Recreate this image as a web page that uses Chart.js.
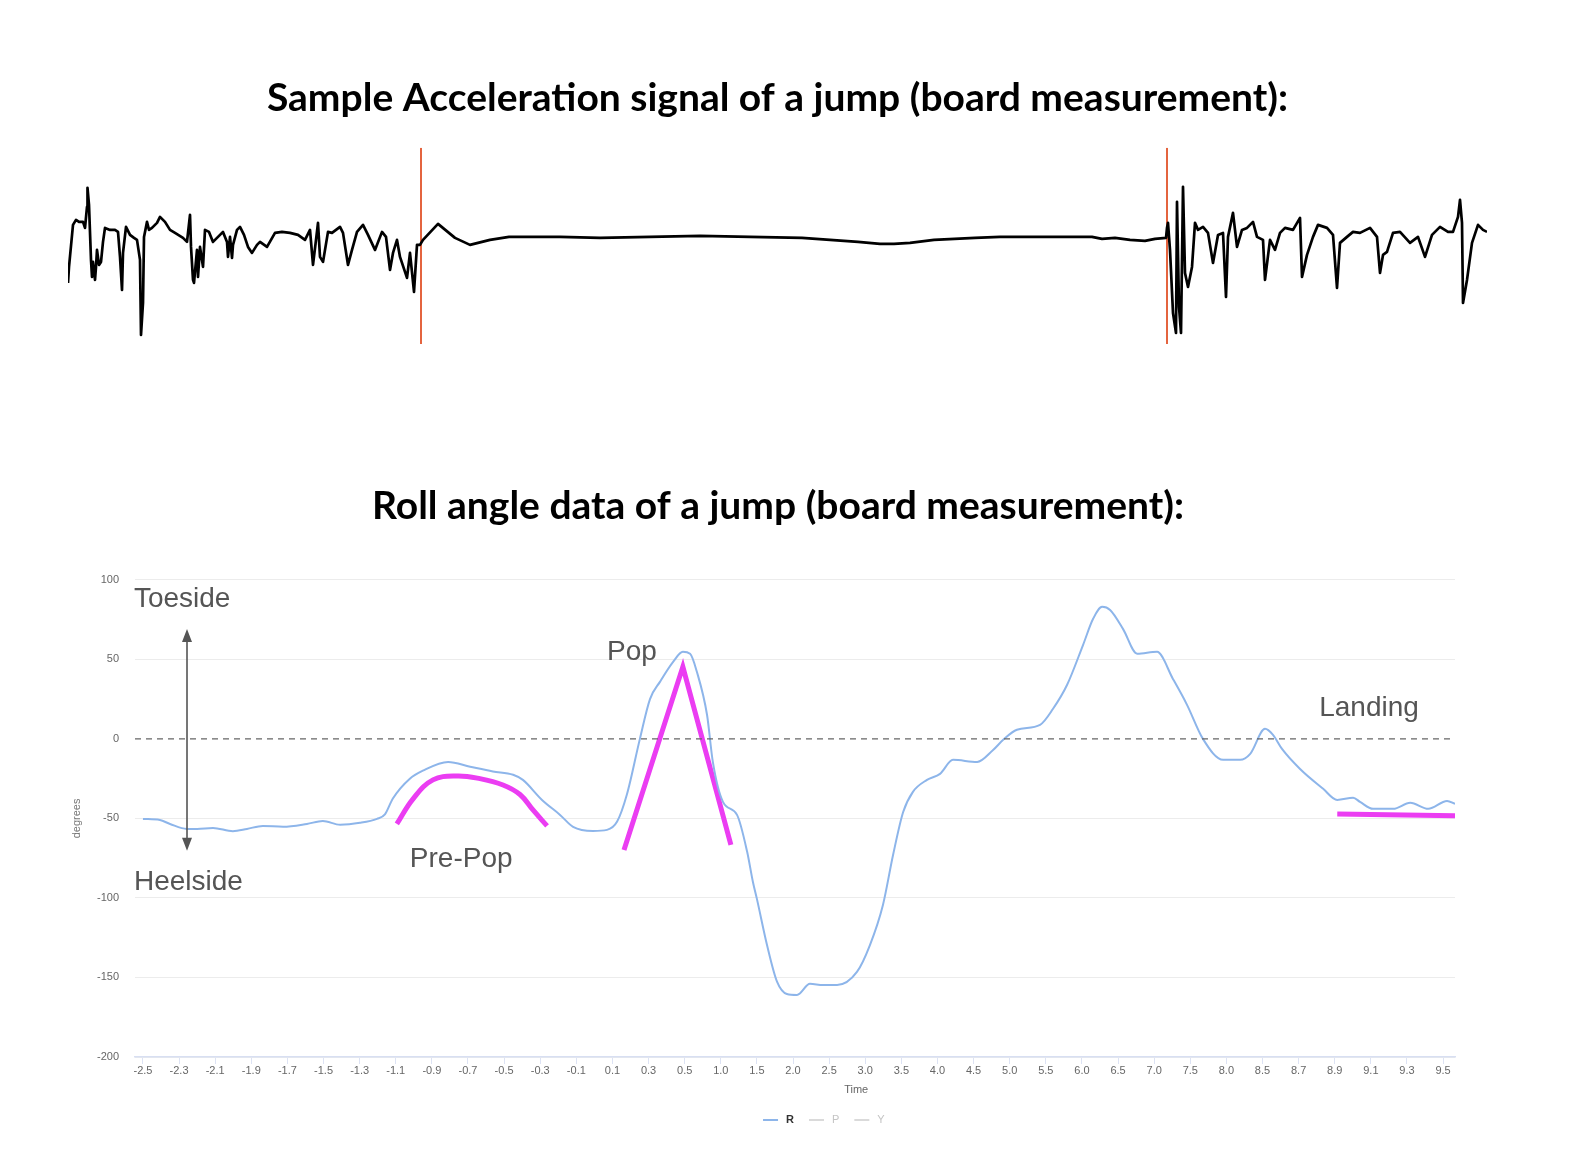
<!DOCTYPE html>
<html>
<head>
<meta charset="utf-8">
<script src="https://cdn.jsdelivr.net/npm/chart.js@4.4.1/dist/chart.umd.min.js"></script>
<style>
  html, body { margin: 0; padding: 0; background: #fff; overflow: hidden; }
  .box { position: absolute; left: 0; width: 1570px; }
  #accBox { top: 60px; height: 300px; }
  #rollBox { top: 468px; height: 676px; }
</style>
</head>
<body>
<div class="box" id="accBox"><canvas id="accChart"></canvas></div>
<div class="box" id="rollBox"><canvas id="rollChart"></canvas></div>
<script>
// ---- acceleration trace (sample index, arbitrary units) ----
const accSample = [0,1,5,8,11,15,17,19,19.5,21,23,24,25,27,28,29,31,33,35,37,42,47,50,52,54,55,58,62,66,69,72,73,75,76,79,81,84,89,92,97,102,107,115,119,122,123,125,126,129,130,132,135,137,141,145,150,155,159,160,162,164,165,169,172,176,180,184,189,192,199,207,214,222,230,237,242,245,248,250,252,255,260,264,272,275,280,284,289,295,300,307,314,318,322,325,329,332,339,342,346,349,352,
    355,370,387,402,422,441,492,532,582,632,682,734,762,790,812,826,842,866,907,932,982,1024,1034,1047,1062,1077,1087,1098,
    1099,1100,1102,1105,1108,1109,1111,1113,1115,1117,1120,1124,1127,1130,1135,1140,1145,1150,1155,1158,1160,1165,1169,1174,1179,1185,1189,1195,1197,1202,1207,1212,1217,1225,1232,1234,1239,1245,1250,1259,1265,1269,1272,1279,1285,1292,1302,1309,1312,1315,1319,1325,1332,1342,1350,1357,1364,1372,1380,1385,1390,1392,1394,1395,1399,1404,1410,1415,1419];
const accValue = [-43,-27,15,20,18,18,12,33,52,35,-20,-37,-22,-40,-27,-10,-25,-22,-2,12,10,10,8,-17,-50,-13,13,5,2,0,-20,-95,-63,3,18,10,12,17,23,18,10,7,2,-2,25,-7,-40,-43,-10,-37,-7,-27,10,8,-2,3,8,-2,-17,3,-18,-5,10,13,5,-7,-13,-5,-2,-7,7,8,7,5,0,10,-25,0,17,-17,-22,8,7,13,7,-25,-10,8,15,5,-10,8,3,-30,-13,0,-17,-38,-13,-52,-5,-5,
    0,16,2,-5,0,3,3,2,3,4,3,2,0,-2,-4,-4,-3,0,2,3,3,3,1,2,0,-1,1,2,
    12,17,-10,-73,-93,38,-67,-93,53,-33,-47,-27,17,10,13,7,-23,5,7,-57,3,27,-7,10,12,18,3,0,-40,0,-10,7,12,10,22,-37,-15,3,15,12,5,-48,-3,3,8,7,12,3,-33,-15,-12,7,8,-3,3,-17,5,13,8,8,23,40,17,-63,-40,-3,15,10,8];
const jumpMarks = [353, 1099];      // take-off / landing markers
const accRange = [-104, 92];

// ---- roll angle (x = tick slot position, y = degrees) ----
const timeLabels = ['-2.5','-2.3','-2.1','-1.9','-1.7','-1.5','-1.3','-1.1','-0.9','-0.7','-0.5','-0.3','-0.1','0.1','0.3','0.5','1.0','1.5','2.0','2.5','3.0','3.5','4.0','4.5','5.0','5.5','6.0','6.5','7.0','7.5','8.0','8.5','8.7','8.9','9.1','9.3','9.5'];
const rollPos = [0,0.47,0.75,1.22,1.5,1.94,2.49,2.88,3.32,3.88,4.54,4.98,5.46,6.01,6.48,6.7,6.92,7.39,7.75,8.45,9.06,9.69,10.25,10.52,11.05,11.55,11.91,12.46,12.85,13.13,13.4,13.76,14.04,14.32,14.68,14.95,15.15,15.34,15.62,15.78,16.06,16.45,16.73,16.89,17.0,17.28,17.56,17.83,18.11,18.47,18.83,19.22,19.77,20.13,20.49,20.77,21.05,21.32,21.71,22.07,22.43,23.1,23.54,23.82,24.2,24.84,25.2,25.59,26.03,26.31,26.56,26.78,27.14,27.53,28.08,28.52,28.91,29.35,29.91,30.38,30.66,31.07,31.29,31.54,32.04,32.68,33.07,33.51,33.7,34.06,34.62,35.09,35.59,36.11,36.33];
const rollDeg = [-50.3,-51,-53.5,-56.6,-56.6,-56,-58,-56.6,-54.7,-55.3,-53.5,-51.6,-54,-52.8,-50.3,-47.5,-37.5,-25,-20,-14.5,-17.5,-20.5,-22.6,-25.8,-38.4,-47.8,-55.3,-57.9,-57.2,-52,-35,0,25,36,48.4,54.7,53.5,42,15,-14.5,-39.6,-47.8,-71,-90,-100.6,-129.6,-152.8,-160.4,-161,-154,-154.7,-154.7,-146.5,-129.6,-104.4,-73,-46,-33.3,-25.8,-22,-13.2,-14.5,-7,-0.6,5.7,8.8,18.9,34,59,75.5,83,81,69,53.5,54.7,37.7,21.4,0,-13.2,-13.2,-9.4,6.3,2.5,-6.3,-18.9,-31.4,-38.4,-37,-39.6,-44,-44,-40.2,-44,-39,-40.9];

// hand-drawn phase sketches
const prePopPos = [7.03,7.48,8.03,8.70,9.33,9.97,10.44,10.80,11.19];
const prePopDeg = [-53.5,-37.7,-25.8,-23.3,-25,-29,-35,-44.7,-54.7];
const popPos = [13.32,14.95,16.28];
const popDeg = [-69.8,45.3,-66.7];
const landPos = [33.07,36.33];
const landDeg = [-47.2,-48.4];

// annotations
const noteText = ['Toeside','Heelside','Pre-Pop','Pop','Landing'];
const notePos = [-0.25,-0.25,7.39,12.85,32.57];
const noteDeg = [88,-90,-75.5,54.7,19.5];
const arrowPos = 1.22;
const arrowDeg = [69,-70.4];

const seriesNames = ['R','P','Y'];
const seriesLine = ['#8db5ea','#dadada','#dadada'];
const seriesText = ['#333333','#c4c4c4','#c4c4c4'];

const xyPairs = (xs, ys) => xs.map((x, i) => ({ x: x, y: ys[i] }));
const xMin = -0.22, xMax = 36.33;
const tickFont = { family: "'Liberation Sans', Arial, sans-serif", size: 11 };
const titleFont = { family: "Lato, 'Open Sans', sans-serif", size: 39, weight: 'bold' };

/* ---------------- top chart ---------------- */
new Chart(document.getElementById('accChart'), {
    type: 'line',
    data: {
        datasets: [
            {
                data: xyPairs(accSample, accValue),
                borderColor: '#000',
                borderWidth: 2.7,
                borderJoinStyle: 'round',
                pointRadius: 0,
                tension: 0
            },
            ...jumpMarks.map(m => ({
                data: [{ x: m, y: accRange[0] }, { x: m, y: accRange[1] }],
                borderColor: '#e4643f',
                borderWidth: 2,
                pointRadius: 0
            }))
        ]
    },
    options: {
        responsive: true,
        maintainAspectRatio: false,
        animation: false,
        layout: { padding: { left: 68, right: 83, top: 0, bottom: 16 } },
        scales: {
            x: { type: 'linear', display: false, min: 0, max: 1419 },
            y: { display: false, min: accRange[0], max: accRange[1] }
        },
        plugins: {
            legend: { display: false },
            tooltip: { enabled: false },
            title: {
                display: true,
                text: 'Sample Acceleration signal of a jump (board measurement):',
                color: '#000',
                font: titleFont,
                padding: { top: 15, bottom: 26 }
            }
        }
    }
});

/* ---------------- bottom chart ---------------- */
// labels, arrow, axis name and legend drawn on top
const rollExtras = {
    id: 'rollExtras',
    afterDatasetsDraw(chart) {
        const { ctx, scales: { x, y } } = chart;
        ctx.save();
        ctx.fillStyle = '#555';
        ctx.font = "28px 'Liberation Sans', Arial, sans-serif";
        ctx.textBaseline = 'middle';
        noteText.forEach((t, i) => {
            ctx.fillText(t, x.getPixelForValue(notePos[i]), y.getPixelForValue(noteDeg[i]));
        });

        // double headed arrow
        const ax = x.getPixelForValue(arrowPos);
        const top = y.getPixelForValue(arrowDeg[0]);
        const bot = y.getPixelForValue(arrowDeg[1]);
        ctx.strokeStyle = '#555';
        ctx.lineWidth = 1.6;
        ctx.beginPath();
        ctx.moveTo(ax, top + 10);
        ctx.lineTo(ax, bot - 10);
        ctx.stroke();
        ctx.beginPath();
        ctx.moveTo(ax, top); ctx.lineTo(ax - 5, top + 13); ctx.lineTo(ax + 5, top + 13); ctx.closePath();
        ctx.moveTo(ax, bot); ctx.lineTo(ax - 5, bot - 13); ctx.lineTo(ax + 5, bot - 13); ctx.closePath();
        ctx.fill();
        ctx.restore();
    },
    afterDraw(chart) {
        const { ctx, chartArea, scales: { x } } = chart;
        ctx.save();
        ctx.textBaseline = 'middle';
        ctx.font = "11px 'Liberation Sans', Arial, sans-serif";
        ctx.fillStyle = '#666';
        ctx.textAlign = 'center';
        ctx.fillText('Time', x.getPixelForValue(19.75), chartArea.bottom + 33);

        // legend
        ctx.textAlign = 'left';
        const ly = chartArea.bottom + 63;
        let lx = x.getPixelForValue(17.17);
        seriesNames.forEach((n, i) => {
            ctx.strokeStyle = seriesLine[i];
            ctx.lineWidth = 2;
            ctx.beginPath();
            ctx.moveTo(lx, ly);
            ctx.lineTo(lx + 15, ly);
            ctx.stroke();
            ctx.fillStyle = seriesText[i];
            ctx.font = (i === 0 ? 'bold ' : '') + "11px 'Liberation Sans', Arial, sans-serif";
            ctx.fillText(n, lx + 23, ly);
            lx += 23 + ctx.measureText(n).width + 15;
        });
        ctx.restore();
    }
};

const magenta = {
    borderColor: '#eb3df2',
    borderWidth: 5,
    pointRadius: 0
};

new Chart(document.getElementById('rollChart'), {
    type: 'line',
    data: {
        datasets: [
            {
                label: 'zero',
                data: [{ x: xMin, y: 0 }, { x: xMax, y: 0 }],
                borderColor: '#666',
                borderWidth: 1.4,
                borderDash: [6, 5],
                pointRadius: 0
            },
            {
                label: 'R',
                data: xyPairs(rollPos, rollDeg),
                borderColor: '#8db5ea',
                borderWidth: 2,
                pointRadius: 0,
                cubicInterpolationMode: 'monotone'
            },
            { label: 'P', data: [], borderColor: '#dadada' },
            { label: 'Y', data: [], borderColor: '#dadada' },
            { label: 'pre-pop', data: xyPairs(prePopPos, prePopDeg), tension: 0.4, ...magenta },
            { label: 'pop', data: xyPairs(popPos, popDeg), tension: 0, ...magenta },
            { label: 'landing', data: xyPairs(landPos, landDeg), tension: 0, ...magenta }
        ]
    },
    options: {
        responsive: true,
        maintainAspectRatio: false,
        animation: false,
        layout: { padding: { left: 66, right: 80, top: 0, bottom: 0 } },
        scales: {
            x: {
                type: 'linear',
                min: xMin,
                max: xMax,
                afterBuildTicks: (scale) => {
                    scale.ticks = timeLabels.map((_, i) => ({ value: i }));
                },
                afterFit: (scale) => { scale.height = 87; },
                ticks: {
                    autoSkip: false,
                    maxRotation: 0,
                    color: '#666',
                    font: tickFont,
                    padding: 0,
                    callback: (v) => timeLabels[v]
                },
                grid: {
                    drawOnChartArea: false,
                    drawTicks: true,
                    tickLength: 7,
                    color: '#dde3f4'
                },
                border: { display: true, color: '#d8dff2', width: 1.5 }
            },
            y: {
                min: -200,
                max: 100,
                afterFit: (scale) => { scale.width = 69; },
                ticks: { stepSize: 50, color: '#666', font: tickFont, padding: 16 },
                grid: {
                    drawTicks: false,
                    color: (c) => (c.tick && c.tick.value === 0 ? 'rgba(0,0,0,0)' : '#ececec')
                },
                border: { display: false },
                title: {
                    display: true,
                    text: 'degrees',
                    color: '#777',
                    font: { family: "'Liberation Sans', Arial, sans-serif", size: 11 }
                }
            },
            // empty right-hand gutter so the title centres like the original
            gutter: {
                position: 'right',
                afterFit: (scale) => { scale.width = 35; },
                ticks: { display: false },
                grid: { display: false },
                border: { display: false }
            }
        },
        plugins: {
            legend: { display: false },
            tooltip: { enabled: false },
            title: {
                display: true,
                text: 'Roll angle data of a jump (board measurement):',
                color: '#000',
                font: titleFont,
                padding: { top: 15, bottom: 50 }
            }
        }
    },
    plugins: [rollExtras]
});
</script>
</body>
</html>
